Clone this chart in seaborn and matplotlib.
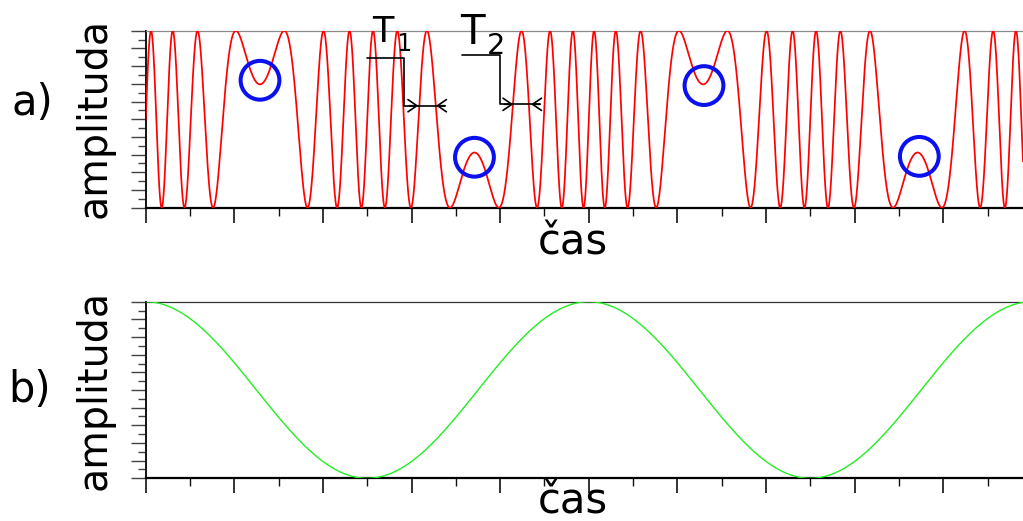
import numpy as np
import pandas as pd
import matplotlib
matplotlib.use("Agg")
import matplotlib.pyplot as plt
from matplotlib.ticker import MultipleLocator
import seaborn as sns

# ---------------- data ----------------
TIME_RANGE = (0.0, 9.9)          # x extent in tick units
MOD_PERIOD = 5.0                 # period of the green modulating cosine
PHASE_DEVIATION = 20.0           # peak phase deviation of the red signal (rad)
PHASE_OFFSET = -1.58             # initial phase of the red signal (rad)
circle_t = [1.29, 3.71, 6.30, 8.73]      # circled turning points
circle_amp = [0.72, 0.285, 0.69, 0.29]
panel_labels = ["a)", "b)"]
x_label = "čas"
y_label = "amplituda"
period_labels = [("T", "1"), ("T", "2")]

# ---------------- curves ----------------
t = np.linspace(TIME_RANGE[0], TIME_RANGE[1], 20000)
w = 2 * np.pi / MOD_PERIOD
phase = PHASE_OFFSET + w * t + PHASE_DEVIATION * np.sin(w * t)
red = 0.5 + 0.5 * np.cos(phase)
green = 0.5 + 0.5 * np.cos(w * t)
df_red = pd.DataFrame({"t": t, "a": red})
df_green = pd.DataFrame({"t": t, "a": green})
df_circ = pd.DataFrame({"t": circle_t, "a": circle_amp})

sns.set_theme(style="white")
plt.rcParams["font.family"] = ["DejaVu Sans"]
plt.rcParams["text.color"] = "black"
plt.rcParams["axes.labelcolor"] = "black"

W, H = 1023, 521
fig = plt.figure(figsize=(W / 100, H / 100), dpi=100)

def axrect(left, top, right, bottom):
    return [left / W, 1 - bottom / H, (right - left) / W, (bottom - top) / H]

ax1 = fig.add_axes(axrect(145.7, 30.7, 1023, 207.7))
ax2 = fig.add_axes(axrect(145.7, 301.7, 1023, 478.3))

sns.lineplot(data=df_red, x="t", y="a", ax=ax1, color="#ff0000", lw=1.25,
             estimator=None, sort=False, zorder=3)
sns.lineplot(data=df_green, x="t", y="a", ax=ax2, color="#22ee22", lw=1.0,
             estimator=None, sort=False, zorder=3)
sns.scatterplot(data=df_circ, x="t", y="a", ax=ax1, s=780, marker="o",
                linewidth=2.9, zorder=4, legend=False)
coll = ax1.collections[-1]
coll.set_facecolor("none")
coll.set_edgecolor("#0a10f0")
coll.set_clip_on(False)

for ax, topcol, xl_y in [(ax1, "#8a8a8a", -0.267), (ax2, "#333333", -0.1965)]:
    ax.set_xlim(*TIME_RANGE)
    ax.set_ylim(0, 1)
    ax.xaxis.set_major_locator(MultipleLocator(1))
    ax.xaxis.set_minor_locator(MultipleLocator(0.5))
    ax.yaxis.set_major_locator(MultipleLocator(0.1))
    ax.yaxis.set_minor_locator(MultipleLocator(0.05))
    ax.tick_params(which="major", direction="out", length=11, width=1.2,
                   color="#111111", labelbottom=False, labelleft=False,
                   bottom=True, left=True)
    ax.tick_params(which="minor", direction="out", length=5.5, width=1.0,
                   color="#111111", bottom=True, left=True)
    ax.tick_params(axis="y", which="both", color="#444444", width=1.0)
    ax.spines["right"].set_visible(False)
    ax.spines["left"].set_color("#000000")
    ax.spines["left"].set_linewidth(1.3)
    ax.spines["bottom"].set_color("#000000")
    ax.spines["bottom"].set_linewidth(1.6)
    ax.spines["top"].set_color(topcol)
    ax.spines["top"].set_linewidth(0.9)
    ax.set_facecolor("white")
    ax.set_xlabel(x_label, fontsize=30, color="black")
    ax.xaxis.label.set_va("baseline")
    ax.xaxis.set_label_coords(0.487, xl_y)
    ax.set_ylabel(y_label, fontsize=28.5, color="black")
    ax.yaxis.set_label_coords(-0.035, 0.5)

ax1.yaxis.set_label_coords(-0.035, 0.507)

# panel labels
fig.text(32.5 / W, 1 - 115 / H, panel_labels[0], fontsize=30, ha="center", va="baseline", color="black")
fig.text(29.5 / W, 1 - 402 / H, panel_labels[1], fontsize=30, ha="center", va="baseline", color="black")

# period annotations (pixel geometry -> data coords of ax1)
def d(px, py):
    return ((px - 145.7) / 88.6, (207.7 - py) / 177.0)

def bracket(x0, ytop, xv, ybot, tip1, tip2, xend):
    xs, ys = zip(d(x0, ytop), d(xv, ytop), d(xv, ybot), d(tip1, ybot))
    ax1.plot(xs, ys, color="black", lw=1.2, clip_on=False, zorder=5)
    xs2, ys2 = zip(d(tip1, ybot), d(xend, ybot))
    ax1.plot(xs2, ys2, color="black", lw=1.2, clip_on=False, zorder=5)
    style = "->,head_length=0.32,head_width=0.22"
    ax1.annotate("", xy=d(tip1, ybot), xytext=d(tip1 - 9, ybot),
                 arrowprops=dict(arrowstyle=style, lw=1.2, color="black",
                                 shrinkA=0, shrinkB=0, mutation_scale=20),
                 annotation_clip=False)
    ax1.annotate("", xy=d(tip2, ybot), xytext=d(tip2 + 9, ybot),
                 arrowprops=dict(arrowstyle=style, lw=1.2, color="black",
                                 shrinkA=0, shrinkB=0, mutation_scale=20),
                 annotation_clip=False)

bracket(367.3, 57.7, 404.3, 105.7, 418.3, 436.0, 445.0)
bracket(462.3, 55.0, 500.0, 104.3, 513.3, 531.0, 540.0)

fig.text(372.0 / W, 1 - 42.3 / H, period_labels[0][0], fontsize=25.3, ha="left", va="baseline", color="black")
fig.text(396.0 / W, 1 - 51.0 / H, period_labels[0][1], fontsize=17.5, ha="left", va="baseline", color="black")
fig.text(460.0 / W, 1 - 44.3 / H, period_labels[1][0], fontsize=29.0, ha="left", va="baseline", color="black")
fig.text(487.0 / W, 1 - 54.3 / H, period_labels[1][1], fontsize=20.7, ha="left", va="baseline", color="black")

fig.savefig("out.png", dpi=100, facecolor="white")
